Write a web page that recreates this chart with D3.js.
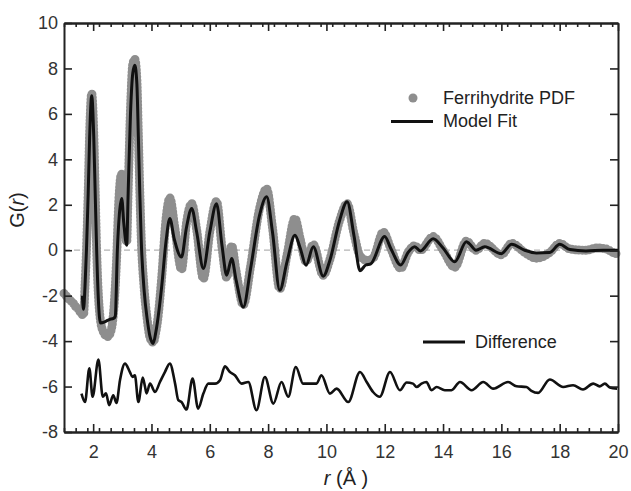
<!DOCTYPE html>
<html>
<head>
<meta charset="utf-8">
<script src="https://cdn.jsdelivr.net/npm/d3@7"></script>
<style>
  body { margin: 0; background: #fff; }
  text { font-family: "Liberation Sans", Arial, sans-serif; }
</style>
</head>
<body>
<script>
// Ferrihydrite PDF (grey dots)
var pdfR = [1.0, 1.1, 1.2, 1.3, 1.38, 1.5, 1.6, 1.67, 1.72, 1.77, 1.83, 1.88, 1.95, 2.02, 2.07, 2.12,
  2.2, 2.32, 2.5, 2.62, 2.72, 2.8, 2.88, 2.97, 3.06, 3.15, 3.2, 3.28, 3.36, 3.43, 3.5, 3.55, 3.6,
  3.65, 3.75, 3.85, 3.95, 4.06, 4.15, 4.2, 4.35, 4.5, 4.63, 4.8, 5.03, 5.2, 5.38, 5.55, 5.78, 6.0,
  6.23, 6.42, 6.58, 6.75, 6.9, 7.15, 7.4, 7.7, 7.95, 8.15, 8.4, 8.65, 8.92, 9.1, 9.3, 9.55, 9.89,
  10.12, 10.45, 10.71, 10.95, 11.15, 11.4, 11.6, 11.95, 12.2, 12.55, 12.8, 13.03, 13.22, 13.66,
  14.0, 14.4, 14.8, 15.13, 15.43, 16.0, 16.35, 16.8, 17.2, 17.66, 18.0, 18.35, 18.9, 19.3, 19.6,
  19.95, 20.0];
var pdfG = [-1.9, -2.05, -2.2, -2.3, -2.45, -2.6, -2.8, -2.85, -1.6, 0, 2.6, 5.2, 6.9, 5.2, 2.6, 0,
  -2.4, -3.5, -3.8, -3.5, -2.4, -0.5, 2.2, 3.35, 2.0, 0.35, 2.6, 6.2, 8.2, 8.4, 7.5, 5.1, 2.6,
  0.5, -1.7, -3.0, -3.85, -4.05, -3.6, -3.2, -1.2, 1.4, 2.3, 1.0, -0.85, 1.2, 2.05, 0.9, -1.25, 0.8,
  2.15, 0.1, -1.2, 0.2, -0.9, -2.4, -0.7, 1.8, 2.7, 1.0, -1.7, -0.2, 1.4, 0.5, -0.5, 0.25, -1.1,
  -0.4, 1.3, 2.05, 0.7, -0.25, -0.45, -0.35, 0.8, 0.1, -0.8, -0.1, 0.2, 0.0, 0.6,
  0.0, -0.75, 0.4, 0.0, 0.3, -0.2, 0.3, -0.1, -0.35, -0.1, 0.3, 0.05, 0.0, 0.1, 0.05,
  -0.15, -0.15];

// Model fit (black line)
var fitR = [1.63, 1.67, 1.72, 1.77, 1.83, 1.88, 1.95, 2.02, 2.07, 2.12, 2.18, 2.25, 2.4, 2.55, 2.7,
  2.76, 2.83, 2.9, 2.98, 3.05, 3.15, 3.2, 3.28, 3.36, 3.43, 3.5, 3.55, 3.6, 3.65, 3.75, 3.85, 3.95,
  4.06, 4.15, 4.2, 4.35, 4.5, 4.63, 4.78, 5.03, 5.2, 5.38, 5.55, 5.78, 6.0, 6.23, 6.42, 6.58, 6.75,
  6.9, 7.15, 7.4, 7.7, 7.95, 8.15, 8.4, 8.65, 8.92, 9.1, 9.3, 9.55, 9.89, 10.12, 10.45, 10.71,
  10.95, 11.15, 11.35, 11.52, 12.0, 12.2, 12.55, 12.8, 13.03, 13.22, 13.66, 14.0, 14.4, 14.8, 14.9,
  15.13, 15.43, 16.0, 16.35, 16.8, 17.2, 17.66, 18.0, 18.35, 18.9, 19.5, 20.0];
var fitG = [-2.0, -2.6, -1.6, 0, 2.5, 5.0, 6.8, 5.0, 2.5, 0, -2.2, -3.2, -3.15, -3.05, -3.0,
  -2.9, 0, 1.6, 2.28, 1.2, 0.22, 2.5, 6.0, 7.8, 8.14, 7.3, 5.0, 2.5, 0.4, -1.8, -3.0, -3.8,
  -4.1, -3.6, -3.2, -1.6, 0.4, 1.4, 0.5, -0.3, 1.0, 1.84, 0.8, -0.8, 0.8, 2.05, 0.2, -1.1, -0.36,
  -1.3, -2.5, -0.8, 1.5, 2.35, 0.8, -1.76, -0.5, 0.66, 0.1, -0.66, 0.15, -1.14, -0.44, 1.3, 2.13,
  0.6, -0.9, -0.65, -0.6, 0.6, 0.1, -0.65, -0.1, 0.15, -0.03, 0.51, 0.1, -0.51, 0.37, 0.29,
  0.0, 0.15, -0.15, 0.26, 0.0, -0.12, -0.1, 0.26, 0.03, -0.03, 0.0, 0.0];

// Difference curve (shown offset near -6)
var diffR = [1.6, 1.72, 1.87, 1.98, 2.18, 2.33, 2.44, 2.55, 2.69, 2.8, 2.92, 3.09, 3.26, 3.35, 3.43,
  3.55, 3.7, 3.78, 3.83, 3.95, 4.12, 4.29, 4.46, 4.63, 4.81, 4.92, 5.03, 5.2, 5.41, 5.6, 5.78, 5.95,
  6.18, 6.35, 6.52, 6.69, 6.86, 7.09, 7.32, 7.6, 7.89, 8.18, 8.46, 8.69, 8.95, 9.2, 9.43, 9.66,
  9.83, 10.12, 10.35, 10.75, 11.15, 11.38, 11.6, 11.83, 12.18, 12.52, 12.75, 12.97, 13.09, 13.26,
  13.43, 13.6, 13.78, 14.06, 14.29, 14.58, 14.98, 15.38, 15.72, 16.23, 16.52, 16.86, 17.03, 17.26,
  17.66, 18.12, 18.46, 18.8, 19.15, 19.37, 19.55, 19.72, 19.97];
var diffG = [-6.31, -6.68, -5.2, -6.45, -4.81, -6.45, -6.3, -6.82, -6.38, -6.72, -5.72, -4.99, -5.36,
  -5.58, -5.5, -6.68, -5.6, -6.02, -6.3, -5.87, -6.24, -5.8, -5.36, -4.99, -5.87, -6.6, -6.68,
  -7.01, -5.65, -6.97, -6.31, -5.87, -5.87, -5.72, -5.11, -5.36, -5.5, -5.87, -5.8, -7.04, -5.58,
  -6.75, -5.8, -6.45, -5.14, -5.87, -5.87, -5.87, -5.5, -6.31, -6.09, -6.68, -5.36, -5.8, -6.24,
  -6.45, -5.36, -6.16, -5.82, -5.87, -6.02, -5.87, -5.8, -6.16, -6.02, -6.16, -6.16, -5.8, -6.16,
  -5.8, -6.09, -5.8, -5.99, -6.02, -6.19, -6.28, -5.69, -6.02, -5.94, -6.13, -5.87, -5.99, -5.87,
  -6.04, -6.09];

var xMajor = [2, 4, 6, 8, 10, 12, 14, 16, 18, 20];
var xMinor = d3.range(1, 20.01, 0.4);
var yMajor = [-8, -6, -4, -2, 0, 2, 4, 6, 8, 10];

var w = 631;
var h = 491;
// plot box (avoid the global names top/left etc.)
var pLeft = 64, pRight = 618, pTop = 23, pBottom = 432;

var svg = d3.select("body")
  .append("svg")
  .attr("width", w)
  .attr("height", h);

var xScale = d3.scaleLinear().domain([1, 20]).range([pLeft, pRight]);
var yScale = d3.scaleLinear().domain([-8, 10]).range([pBottom, pTop]);

function toPoints(rs, gs) {
  return rs.map(function(r, i) { return [r, gs[i]]; });
}

var line = d3.line()
  .x(function(d) { return xScale(d[0]); })
  .y(function(d) { return yScale(d[1]); })
  .curve(d3.curveMonotoneX);

// dashed zero line
svg.append("line")
  .attr("x1", pLeft).attr("x2", pRight)
  .attr("y1", yScale(0)).attr("y2", yScale(0))
  .attr("stroke", "#b4b4b4")
  .attr("stroke-width", 1.3)
  .attr("stroke-dasharray", "6,4");

// grey data band, drawn as a string of dots
svg.append("path")
  .datum(toPoints(pdfR, pdfG))
  .attr("d", line)
  .attr("fill", "none")
  .attr("stroke", "#8e8e8e")
  .attr("stroke-width", 9)
  .attr("stroke-linecap", "round")
  .attr("stroke-dasharray", "0,3.5");

// model fit
svg.append("path")
  .datum(toPoints(fitR, fitG))
  .attr("d", line)
  .attr("fill", "none")
  .attr("stroke", "#111")
  .attr("stroke-width", 3)
  .attr("stroke-linejoin", "round");

// difference
svg.append("path")
  .datum(toPoints(diffR, diffG))
  .attr("d", line)
  .attr("fill", "none")
  .attr("stroke", "#111")
  .attr("stroke-width", 2.6)
  .attr("stroke-linejoin", "round");

// axes, all ticks pointing inwards
function styleAxis(g) {
  g.select(".domain").attr("stroke", "#222").attr("stroke-width", 2);
  g.selectAll(".tick line").attr("stroke", "#222").attr("stroke-width", 1.6);
  g.selectAll(".tick text")
    .attr("fill", "#333")
    .style("font-size", "18px");
}
var fmt = function(d) { return String(d); };

svg.append("g")
  .attr("transform", "translate(0," + pBottom + ")")
  .call(d3.axisBottom(xScale).tickValues(xMinor).tickSizeInner(-4).tickSizeOuter(0).tickFormat(""))
  .call(styleAxis);
svg.append("g")
  .attr("transform", "translate(0," + pBottom + ")")
  .call(d3.axisBottom(xScale).tickValues(xMajor).tickSizeInner(-8).tickSizeOuter(0).tickPadding(13).tickFormat(fmt))
  .call(styleAxis);
svg.append("g")
  .attr("transform", "translate(0," + pTop + ")")
  .call(d3.axisTop(xScale).tickValues(xMinor).tickSizeInner(-4).tickSizeOuter(0).tickFormat(""))
  .call(styleAxis);
svg.append("g")
  .attr("transform", "translate(0," + pTop + ")")
  .call(d3.axisTop(xScale).tickValues(xMajor).tickSizeInner(-8).tickSizeOuter(0).tickFormat(""))
  .call(styleAxis);
svg.append("g")
  .attr("transform", "translate(" + pLeft + ",0)")
  .call(d3.axisLeft(yScale).tickValues(yMajor).tickSizeInner(-8).tickSizeOuter(0).tickPadding(6).tickFormat(fmt))
  .call(styleAxis);
svg.append("g")
  .attr("transform", "translate(" + pRight + ",0)")
  .call(d3.axisRight(yScale).tickValues(yMajor).tickSizeInner(-8).tickSizeOuter(0).tickFormat(""))
  .call(styleAxis);

// axis titles
var yTitle = svg.append("text")
  .attr("transform", "translate(24,210) rotate(-90)")
  .attr("text-anchor", "middle")
  .attr("fill", "#222")
  .style("font-size", "20px");
yTitle.append("tspan").text("G(");
yTitle.append("tspan").style("font-style", "italic").text("r");
yTitle.append("tspan").text(")");

var xTitle = svg.append("text")
  .attr("x", 346)
  .attr("y", 485)
  .attr("text-anchor", "middle")
  .attr("fill", "#222")
  .style("font-size", "20px");
xTitle.append("tspan").style("font-style", "italic").text("r");
xTitle.append("tspan").text(" (Å )");

// legend
svg.append("circle")
  .attr("cx", 413).attr("cy", 98).attr("r", 4.5)
  .attr("fill", "#8e8e8e");
svg.append("text")
  .attr("x", 443).attr("y", 104)
  .attr("fill", "#222")
  .style("font-size", "18px")
  .text("Ferrihydrite PDF");

svg.append("line")
  .attr("x1", 391).attr("x2", 433)
  .attr("y1", 121.5).attr("y2", 121.5)
  .attr("stroke", "#111").attr("stroke-width", 3);
svg.append("text")
  .attr("x", 443).attr("y", 127)
  .attr("fill", "#222")
  .style("font-size", "18px")
  .text("Model Fit");

svg.append("line")
  .attr("x1", 423).attr("x2", 465)
  .attr("y1", 342).attr("y2", 342)
  .attr("stroke", "#111").attr("stroke-width", 3);
svg.append("text")
  .attr("x", 475).attr("y", 348)
  .attr("fill", "#222")
  .style("font-size", "18px")
  .text("Difference");
</script>
</body>
</html>
